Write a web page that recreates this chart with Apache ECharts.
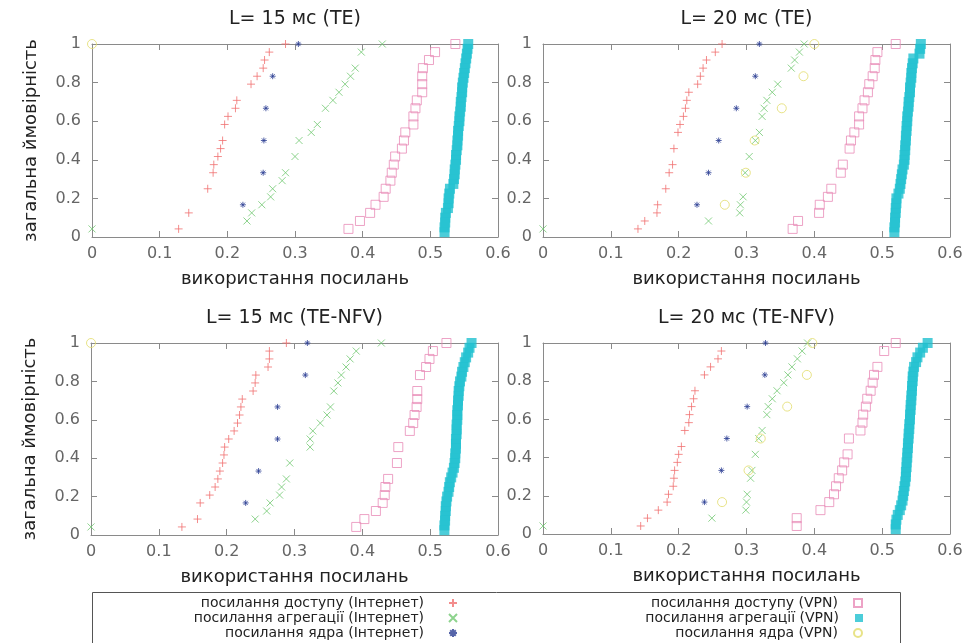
<!DOCTYPE html>
<html><head><meta charset="utf-8">
<script src="https://cdn.jsdelivr.net/npm/echarts@6/dist/echarts.min.js"></script>
<style>html,body{margin:0;padding:0;background:#fff}#c{width:978px;height:643px}</style>
</head><body><div id="c"></div>
<script>
// ---------- labels ----------
const seriesNames = [
  'посилання доступу (Інтернет)',
  'посилання агрегації (Інтернет)',
  'посилання ядра (Інтернет)',
  'посилання доступу (VPN)',
  'посилання агрегації (VPN)',
  'посилання ядра (VPN)'
];
const panelTitles = ['L= 15 мс (TE)', 'L= 20 мс (TE)', 'L= 15 мс (TE-NFV)', 'L= 20 мс (TE-NFV)'];
const xAxisTitle = 'використання посилань';
const yAxisTitle = 'загальна ймовірність';
const xMin = 0, xMax = 0.6, xStep = 0.1;
const yMin = 0, yMax = 1, yStep = 0.2;

// ---------- data: [utilisation, cumulative probability] ----------
// Panel 1: L=15 ms (TE)
const p1AccInet = [[0.128,0.042],[0.143,0.125],[0.171,0.25],[0.179,0.333],[0.180,0.375],[0.186,0.417],[0.190,0.458],[0.193,0.5],[0.196,0.583],[0.201,0.625],[0.212,0.667],[0.214,0.708],[0.235,0.792],[0.244,0.833],[0.253,0.875],[0.255,0.917],[0.262,0.958],[0.286,1]];
const p1AggInet = [[0,0.042],[0.229,0.083],[0.236,0.125],[0.251,0.167],[0.264,0.208],[0.267,0.25],[0.281,0.292],[0.286,0.333],[0.300,0.417],[0.306,0.5],[0.324,0.542],[0.333,0.583],[0.345,0.667],[0.356,0.708],[0.365,0.75],[0.374,0.792],[0.382,0.833],[0.389,0.875],[0.398,0.958],[0.429,1]];
const p1CoreInet = [[0.223,0.167],[0.253,0.333],[0.254,0.5],[0.257,0.667],[0.267,0.833],[0.305,1]];
const p1AccVpn = [[0.379,0.042],[0.396,0.083],[0.411,0.125],[0.419,0.167],[0.431,0.208],[0.434,0.25],[0.441,0.292],[0.443,0.333],[0.446,0.375],[0.448,0.417],[0.458,0.458],[0.461,0.5],[0.463,0.542],[0.475,0.583],[0.475,0.625],[0.478,0.667],[0.480,0.708],[0.488,0.75],[0.488,0.792],[0.488,0.833],[0.489,0.875],[0.498,0.917],[0.507,0.958],[0.537,1]];
const p1CoreVpn = [[0,1]];
// Panel 2: L=20 ms (TE)
const p2AccInet = [[0.140,0.042],[0.150,0.083],[0.168,0.125],[0.169,0.167],[0.181,0.25],[0.186,0.333],[0.191,0.375],[0.193,0.458],[0.199,0.542],[0.202,0.583],[0.207,0.625],[0.210,0.667],[0.212,0.708],[0.215,0.75],[0.228,0.792],[0.232,0.833],[0.236,0.875],[0.241,0.917],[0.254,0.958],[0.264,1]];
const p2AggInet = [[0,0.042],[0.244,0.083],[0.290,0.125],[0.291,0.167],[0.295,0.208],[0.298,0.333],[0.304,0.417],[0.313,0.5],[0.319,0.542],[0.323,0.625],[0.326,0.667],[0.330,0.708],[0.338,0.75],[0.346,0.792],[0.366,0.875],[0.371,0.917],[0.378,0.958],[0.385,1]];
const p2CoreInet = [[0.227,0.167],[0.244,0.333],[0.259,0.5],[0.285,0.667],[0.313,0.833],[0.319,1]];
const p2AccVpn = [[0.368,0.042],[0.376,0.083],[0.407,0.125],[0.408,0.167],[0.420,0.208],[0.425,0.25],[0.439,0.333],[0.442,0.375],[0.452,0.458],[0.454,0.5],[0.459,0.542],[0.466,0.583],[0.466,0.625],[0.471,0.667],[0.474,0.708],[0.479,0.75],[0.481,0.792],[0.486,0.833],[0.489,0.875],[0.490,0.917],[0.493,0.958],[0.520,1]];
const p2CoreVpn = [[0.268,0.167],[0.299,0.333],[0.312,0.5],[0.352,0.667],[0.384,0.833],[0.400,1]];
// Panel 3: L=15 ms (TE-NFV)
const p3AccInet = [[0.134,0.042],[0.157,0.083],[0.161,0.167],[0.175,0.208],[0.183,0.25],[0.187,0.292],[0.190,0.333],[0.194,0.375],[0.196,0.417],[0.197,0.458],[0.203,0.5],[0.211,0.542],[0.216,0.583],[0.219,0.625],[0.221,0.667],[0.223,0.708],[0.239,0.75],[0.242,0.792],[0.243,0.833],[0.261,0.875],[0.263,0.917],[0.263,0.958],[0.288,1]];
const p3AggInet = [[0,0.042],[0.242,0.083],[0.259,0.125],[0.264,0.167],[0.278,0.208],[0.281,0.25],[0.288,0.292],[0.293,0.375],[0.323,0.458],[0.323,0.5],[0.327,0.542],[0.338,0.583],[0.348,0.625],[0.353,0.667],[0.358,0.75],[0.364,0.792],[0.369,0.833],[0.376,0.875],[0.382,0.917],[0.391,0.958],[0.428,1]];
const p3CoreInet = [[0.228,0.167],[0.247,0.333],[0.275,0.5],[0.275,0.667],[0.316,0.833],[0.319,1]];
const p3AccVpn = [[0.391,0.042],[0.403,0.083],[0.420,0.125],[0.430,0.167],[0.433,0.208],[0.434,0.25],[0.438,0.292],[0.451,0.375],[0.453,0.458],[0.470,0.542],[0.475,0.583],[0.477,0.625],[0.480,0.667],[0.481,0.708],[0.481,0.75],[0.485,0.833],[0.494,0.875],[0.499,0.917],[0.504,0.958],[0.524,1]];
const p3CoreVpn = [[0,1]];
// Panel 4: L=20 ms (TE-NFV)
const p4AccInet = [[0.144,0.042],[0.154,0.083],[0.170,0.125],[0.183,0.167],[0.185,0.208],[0.192,0.25],[0.193,0.292],[0.194,0.333],[0.198,0.375],[0.200,0.417],[0.204,0.458],[0.209,0.542],[0.215,0.583],[0.216,0.625],[0.219,0.667],[0.222,0.708],[0.224,0.75],[0.238,0.833],[0.247,0.875],[0.258,0.917],[0.263,0.958]];
const p4AggInet = [[0,0.042],[0.249,0.083],[0.299,0.125],[0.300,0.167],[0.301,0.208],[0.306,0.292],[0.308,0.333],[0.313,0.417],[0.318,0.5],[0.323,0.542],[0.330,0.625],[0.332,0.667],[0.338,0.708],[0.345,0.75],[0.355,0.792],[0.361,0.833],[0.367,0.875],[0.375,0.917],[0.382,0.958],[0.390,1]];
const p4CoreInet = [[0.238,0.167],[0.263,0.333],[0.271,0.5],[0.301,0.667],[0.327,0.833],[0.328,1]];
const p4AccVpn = [[0.374,0.042],[0.374,0.083],[0.409,0.125],[0.422,0.167],[0.429,0.208],[0.432,0.25],[0.436,0.292],[0.441,0.333],[0.444,0.375],[0.449,0.417],[0.451,0.5],[0.468,0.542],[0.471,0.583],[0.472,0.625],[0.476,0.667],[0.478,0.708],[0.483,0.75],[0.486,0.792],[0.488,0.833],[0.493,0.875],[0.503,0.958],[0.520,1]];
const p4CoreVpn = [[0.264,0.167],[0.303,0.333],[0.321,0.5],[0.360,0.667],[0.389,0.833],[0.397,1]];

// Aggregation links (VPN): cumulative levels and utilisation per panel
const aggVpnLevels = [0.025,0.05,0.075,0.1,0.125,0.15,0.175,0.2,0.225,0.25,0.275,0.3,0.325,0.35,0.375,0.4,0.425,0.45,0.475,0.5,0.525,0.55,0.575,0.6,0.625,0.65,0.675,0.7,0.725,0.75,0.775,0.8,0.825,0.85,0.875,0.9,0.925,0.95,0.975,1];
const p1AggVpnX = [0.521,0.521,0.522,0.522,0.523,0.526,0.527,0.527,0.528,0.529,0.534,0.535,0.536,0.536,0.537,0.538,0.538,0.539,0.540,0.540,0.541,0.541,0.542,0.543,0.543,0.544,0.545,0.545,0.546,0.547,0.547,0.548,0.549,0.550,0.551,0.552,0.553,0.554,0.555,0.556];
const p2AggVpnX = [0.518,0.518,0.519,0.519,0.520,0.520,0.521,0.521,0.524,0.526,0.527,0.528,0.529,0.530,0.532,0.533,0.533,0.534,0.534,0.535,0.535,0.536,0.536,0.537,0.537,0.538,0.539,0.539,0.540,0.541,0.541,0.542,0.543,0.543,0.544,0.545,0.546,0.555,0.556,0.557];
const p3AggVpnX = [0.521,0.521,0.522,0.522,0.523,0.523,0.524,0.525,0.527,0.528,0.529,0.531,0.533,0.535,0.536,0.537,0.537,0.538,0.538,0.538,0.539,0.539,0.539,0.540,0.540,0.540,0.541,0.541,0.542,0.542,0.543,0.544,0.546,0.547,0.549,0.551,0.553,0.556,0.558,0.561];
const p4AggVpnX = [0.520,0.520,0.521,0.523,0.526,0.528,0.530,0.531,0.532,0.533,0.534,0.535,0.535,0.536,0.536,0.537,0.537,0.538,0.538,0.539,0.539,0.540,0.540,0.541,0.541,0.542,0.542,0.543,0.543,0.544,0.544,0.545,0.545,0.546,0.547,0.550,0.552,0.556,0.560,0.567];

const pair = (xs) => xs.map((x, i) => [x, aggVpnLevels[i]]);
const panels = [
  [p1AccInet, p1AggInet, p1CoreInet, p1AccVpn, pair(p1AggVpnX), p1CoreVpn],
  [p2AccInet, p2AggInet, p2CoreInet, p2AccVpn, pair(p2AggVpnX), p2CoreVpn],
  [p3AccInet, p3AggInet, p3CoreInet, p3AccVpn, pair(p3AggVpnX), p3CoreVpn],
  [p4AccInet, p4AggInet, p4CoreInet, p4AccVpn, pair(p4AggVpnX), p4CoreVpn]
];

// ---------- styling ----------
const FONT = 'DejaVu Sans';
const gridBoxes = [
  {left: 92, top: 44, width: 406, height: 193},
  {left: 543, top: 44, width: 407, height: 193},
  {left: 91, top: 343, width: 407, height: 192},
  {left: 543, top: 343, width: 407, height: 191}
];
const styles = [
  {symbol: 'path://M0,5L10,5M5,0L5,10', size: 8, itemStyle: {color: '#f07070', borderColor: '#f07070', borderWidth: 1}},
  {symbol: 'path://M0,0L10,10M0,10L10,0', size: 7, itemStyle: {color: '#70c870', borderColor: '#70c870', borderWidth: 1}},
  {symbol: 'path://M0,5L10,5M5,0L5,10M1.5,1.5L8.5,8.5M1.5,8.5L8.5,1.5', size: 6, itemStyle: {color: '#2c3f94', borderColor: '#2c3f94', borderWidth: 1}},
  {symbol: 'rect', size: 9, itemStyle: {color: 'rgba(0,0,0,0)', borderColor: '#e88cb8', borderWidth: 1}},
  {symbol: 'rect', size: 10, itemStyle: {color: '#1fc1d0', borderWidth: 0}},
  {symbol: 'circle', size: 9, itemStyle: {color: 'rgba(0,0,0,0)', borderColor: '#e2dc6a', borderWidth: 1}}
];

const axisColor = '#8a8a8a';
const grid = [], xAxis = [], yAxis = [], series = [], title = [];
gridBoxes.forEach((g, i) => {
  grid.push(Object.assign({containLabel: false, show: false}, g));
  const cx = g.left + g.width / 2;
  title.push({
    text: panelTitles[i], left: cx, top: g.top - 34, textAlign: 'center', padding: 0,
    textStyle: {fontFamily: FONT, fontSize: 19, fontWeight: 'normal', color: '#222'}
  });
  const common = {type: 'value', gridIndex: i, splitLine: {show: false},
    axisLine: {show: true, onZero: false, lineStyle: {color: axisColor, width: 1}},
    axisTick: {show: true, inside: true, length: 6, lineStyle: {color: axisColor}}};
  xAxis.push(Object.assign({}, common, {
    position: 'bottom', min: xMin, max: xMax, interval: xStep,
    axisLabel: {margin: 9, fontFamily: FONT, fontSize: 16, color: '#666'},
    name: xAxisTitle, nameLocation: 'middle', nameGap: 33,
    nameTextStyle: {fontFamily: FONT, fontSize: 18, color: '#222'}
  }));
  xAxis.push(Object.assign({}, common, {
    position: 'top', min: xMin, max: xMax, interval: xStep, axisLabel: {show: false}
  }));
  const yMain = Object.assign({}, common, {
    position: 'left', min: yMin, max: yMax, interval: yStep,
    axisLabel: {margin: 11, fontFamily: FONT, fontSize: 16, color: '#666'}
  });
  if (i % 2 === 0) {
    Object.assign(yMain, {name: yAxisTitle, nameLocation: 'middle', nameGap: 52,
      nameTextStyle: {fontFamily: FONT, fontSize: 18, color: '#222'}});
  }
  yAxis.push(yMain);
  yAxis.push(Object.assign({}, common, {
    position: 'right', min: yMin, max: yMax, interval: yStep, axisLabel: {show: false}
  }));
  panels[i].forEach((data, k) => {
    series.push({
      type: 'scatter', name: seriesNames[k], xAxisIndex: 2 * i, yAxisIndex: 2 * i,
      data: data, symbol: styles[k].symbol, symbolSize: styles[k].size,
      itemStyle: styles[k].itemStyle, clip: false, z: k === 4 ? 1 : 2,
      emphasis: {disabled: true}
    });
  });
});

// Legend: one legend per entry so texts are right-aligned like the original key
const legendRows = [603, 618, 633];
const legend = seriesNames.map((name, k) => {
  const col = k < 3 ? 0 : 1;
  const row = k % 3;
  return {
    data: [name], orient: 'horizontal', align: 'right', selectedMode: false,
    right: col === 0 ? 978 - 458 : 978 - 863, top: legendRows[row] - 8,
    padding: 0, itemWidth: 8, itemHeight: 8, itemGap: 0,
    textStyle: {fontFamily: FONT, fontSize: 14, color: '#222', lineHeight: 16,
      padding: [0, col === 0 ? 20 : 11, 0, 0]}
  };
});

const chart = echarts.init(document.getElementById('c'), null, {renderer: 'canvas'});
chart.setOption({
  animation: false,
  backgroundColor: '#fff',
  title, grid, xAxis, yAxis, series, legend,
  graphic: [{
    type: 'rect', silent: true, z: -1,
    shape: {x: 92.5, y: 592.5, width: 808, height: 70},
    style: {fill: 'none', stroke: '#555', lineWidth: 1}
  }]
});
</script></body></html>
